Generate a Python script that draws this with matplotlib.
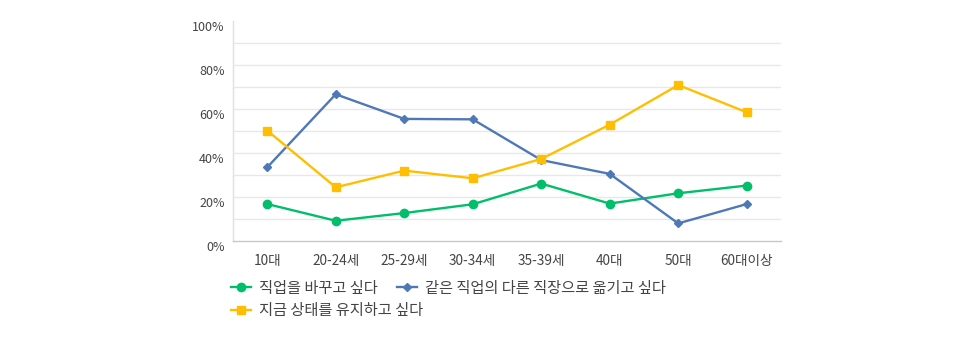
import matplotlib
matplotlib.use("Agg")
import matplotlib.pyplot as plt
import matplotlib.transforms as mtransforms
from matplotlib.ticker import FuncFormatter

plt.rcParams['font.family'] = ['Noto Sans CJK KR', 'DejaVu Sans']

# data
categories = ["10대", "20-24세", "25-29세", "30-34세", "35-39세", "40대", "50대", "60대이상"]
change_job = [16.8, 9.2, 12.7, 16.7, 26.1, 17.0, 21.7, 25.2]
same_job_other_place = [33.5, 66.7, 55.5, 55.3, 36.8, 30.5, 8.0, 16.8]
keep_current = [50.2, 24.4, 32.0, 28.5, 37.3, 52.9, 70.9, 58.5]
series_names = ["직업을 바꾸고 싶다", "같은 직업의 다른 직장으로 옮기고 싶다", "지금 상태를 유지하고 싶다"]

green = "#00BF6A"
blue = "#4F78B6"
yellow = "#FFBF00"
text_col = "#444444"

fig = plt.figure(figsize=(9.78, 3.41), dpi=100)
ax = fig.add_axes([233/978, 100/341, 548/978, 220/341])

x = list(range(len(categories)))
l1, = ax.plot(x, change_job, color=green, lw=1.7, marker='o', ms=6, zorder=3)
l2, = ax.plot(x, same_job_other_place, color=blue, lw=1.7, marker='D', ms=4.5, zorder=3)
l3, = ax.plot(x, keep_current, color=yellow, lw=1.7, marker='s', ms=6, zorder=4)

ax.set_xlim(-0.5, len(categories) - 0.5)
ax.set_ylim(0, 100)

# gridlines every 10%
for g in range(10, 100, 10):
  ax.axhline(g, color="#e8e8e8", lw=1, zorder=0)

ax.set_xticks(x)
ax.set_xticklabels(categories)
ax.set_yticks(range(0, 101, 20))
ax.yaxis.set_major_formatter(FuncFormatter(lambda v, p: "%d%%" % v))
ax.tick_params(axis='both', length=0, labelcolor=text_col)
ax.tick_params(axis='x', pad=9, labelsize=9.8)
ax.tick_params(axis='y', pad=6, labelsize=9)

# y labels sit a little below their gridline
off = mtransforms.ScaledTranslation(0, -5/100, fig.dpi_scale_trans)
for lab in ax.get_yticklabels():
  lab.set_transform(lab.get_transform() + off)

for s in ['top', 'right']:
  ax.spines[s].set_visible(False)
ax.spines['left'].set_color("#e0e0e0")
ax.spines['bottom'].set_color("#c8c8c8")
ax.spines['left'].set_linewidth(1)
ax.spines['bottom'].set_linewidth(1)

# legend, flowing layout
def add_leg(handle, label, xpix, ypix):
  leg = fig.legend([handle], [label], loc='center left',
                   bbox_to_anchor=(xpix/978, 1 - ypix/341), frameon=False,
                   handlelength=1.3, handletextpad=0.55, borderaxespad=0, borderpad=0,
                   fontsize=11, labelcolor=text_col)
  return leg

add_leg(l1, series_names[0], 231, 288)
add_leg(l2, series_names[1], 397, 288)
add_leg(l3, series_names[2], 231, 311)

fig.savefig("out.png", dpi=100)
